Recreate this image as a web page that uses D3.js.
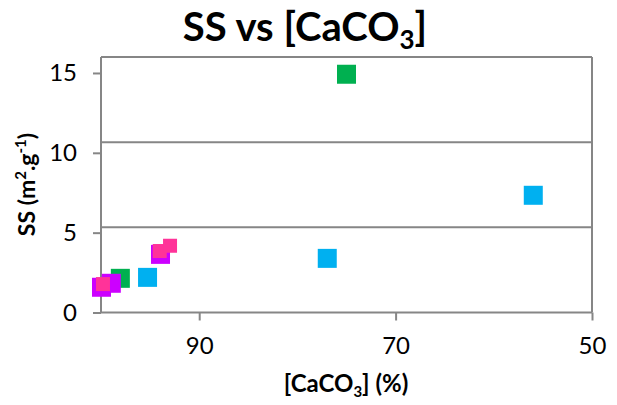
<!DOCTYPE html>
<html>
<head>
<meta charset="utf-8">
<script src="https://cdn.jsdelivr.net/npm/d3@7/dist/d3.min.js"></script>
<style>
  html, body { margin: 0; padding: 0; background: #fff; }
  svg { display: block; }
  text { font-family: Lato, "Open Sans", sans-serif; fill: #000; }
</style>
</head>
<body>
<script>
// ---- data ----
const seriesNames = ["green", "blue", "purple", "pink"];
const greenX = [75.0, 98.03];
const greenY = [14.92, 2.14];
const blueX = [55.98, 76.96, 95.26];
const blueY = [7.34, 3.39, 2.2];
const purpleX = [99.95, 98.95, 93.94];
const purpleY = [1.58, 1.83, 3.64];
const pinkX = [99.8, 94.02, 92.97];
const pinkY = [1.78, 3.85, 4.18];
const xTicks = [90, 70, 50];
const yTicks = [0, 5, 10, 15];
const xDomain = [100, 50];
const yDomain = [0, 16];

const W = 617, H = 405;
const pL = 101, pR = 592, pT = 57, pB = 312.5;

const svg = d3.select("body").append("svg").attr("width", W).attr("height", H);

const x = d3.scaleLinear().domain(xDomain).range([pL, pR]);
const y = d3.scaleLinear().domain(yDomain).range([pB, pT]);

const axisColor = "#868686";

// gridlines (divide range into thirds like the reference)
const gridVals = [1, 2].map(k => yDomain[1] * k / 3);
svg.append("g").selectAll("line").data(gridVals).join("line")
  .attr("x1", pL).attr("x2", pR)
  .attr("y1", d => y(d)).attr("y2", d => y(d))
  .attr("stroke", axisColor).attr("stroke-width", 2);

// plot border (top and right)
svg.append("line").attr("x1", pL).attr("x2", pR).attr("y1", pT).attr("y2", pT)
  .attr("stroke", axisColor).attr("stroke-width", 2);
svg.append("line").attr("x1", pR).attr("x2", pR).attr("y1", pT).attr("y2", pB)
  .attr("stroke", axisColor).attr("stroke-width", 2);

// axes
const xAxis = d3.axisBottom(x).tickValues(xTicks).tickSize(8).tickPadding(16).tickFormat(d3.format("d"));
const gx = svg.append("g").attr("transform", `translate(0,${pB})`).call(xAxis);
gx.select(".domain").attr("stroke", axisColor).attr("stroke-width", 2).attr("d", `M${pL},0H${pR}`);
gx.selectAll(".tick line").attr("stroke", axisColor).attr("stroke-width", 2);
gx.selectAll(".tick text").attr("font-size", 24).attr("fill", "#000");

const yAxis = d3.axisLeft(y).tickValues(yTicks).tickSize(8).tickPadding(16).tickFormat(d3.format("d"));
const gy = svg.append("g").attr("transform", `translate(${pL},0)`).call(yAxis);
gy.select(".domain").attr("stroke", axisColor).attr("stroke-width", 2).attr("d", `M0,${pB}V${pT}`);
gy.selectAll(".tick line").attr("stroke", axisColor).attr("stroke-width", 2);
gy.selectAll(".tick text").attr("font-size", 24).attr("fill", "#000");

// points
const series = [
  { name: "green", xs: greenX, ys: greenY, color: "#00B050", size: 19 },
  { name: "blue", xs: blueX, ys: blueY, color: "#00B0F0", size: 19 },
  { name: "purple", xs: purpleX, ys: purpleY, color: "#CC00FF", size: 19 },
  { name: "pink", xs: pinkX, ys: pinkY, color: "#FF3399", size: 14 }
];
series.forEach(s => {
  const pts = s.xs.map((v, i) => [v, s.ys[i]]);
  svg.append("g").selectAll("rect").data(pts).join("rect")
    .attr("x", d => x(d[0]) - s.size / 2)
    .attr("y", d => y(d[1]) - s.size / 2)
    .attr("width", s.size).attr("height", s.size)
    .attr("fill", s.color);
});

// title
const title = svg.append("text").attr("x", 305).attr("y", 41)
  .attr("text-anchor", "middle").attr("font-weight", "bold").attr("font-size", 40);
title.append("tspan").text("SS vs [CaCO");
title.append("tspan").attr("font-size", 26).attr("dy", 8).text("3");
title.append("tspan").attr("dy", -8).text("]");

// x axis title
const xt = svg.append("text").attr("x", 346).attr("y", 392)
  .attr("text-anchor", "middle").attr("font-weight", "bold").attr("font-size", 24);
xt.append("tspan").text("[CaCO");
xt.append("tspan").attr("font-size", 15).attr("dy", 5).text("3");
xt.append("tspan").attr("dy", -5).text("] (%)");

// y axis title
const yt = svg.append("text").attr("transform", "translate(35,184.5) rotate(-90)")
  .attr("text-anchor", "middle").attr("font-weight", "bold").attr("font-size", 23);
yt.append("tspan").text("SS (m");
yt.append("tspan").attr("font-size", 15).attr("dy", -9).text("2");
yt.append("tspan").attr("dy", 9).text(".g");
yt.append("tspan").attr("font-size", 15).attr("dy", -9).text("-1");
yt.append("tspan").attr("dy", 9).text(")");
</script>
</body>
</html>
